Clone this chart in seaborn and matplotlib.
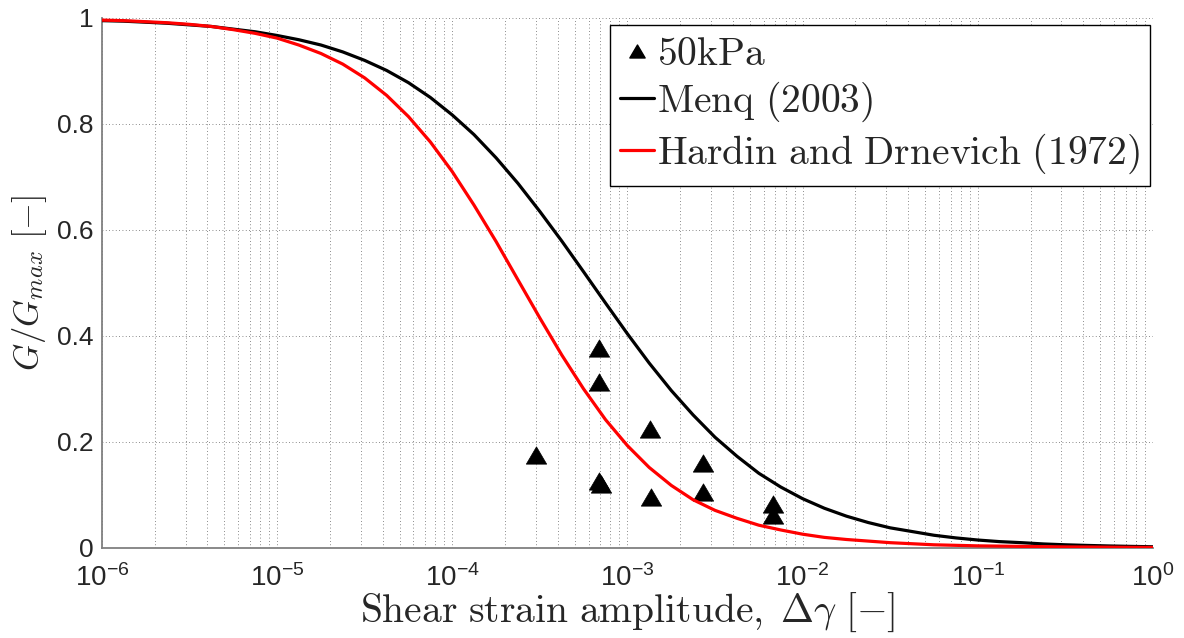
import matplotlib
matplotlib.use("Agg")
import matplotlib.pyplot as plt
from matplotlib.path import Path
from matplotlib.lines import Line2D
import numpy as np
import pandas as pd
import seaborn as sns

# Model curves: shear modulus reduction vs. shear strain amplitude (1/8-decade steps)
strain_curve = [1.0e-6, 1.33e-6, 1.78e-6, 2.37e-6, 3.16e-6, 4.22e-6, 5.62e-6, 7.50e-6,
                1.0e-5, 1.33e-5, 1.78e-5, 2.37e-5, 3.16e-5, 4.22e-5, 5.62e-5, 7.50e-5,
                1.0e-4, 1.33e-4, 1.78e-4, 2.37e-4, 3.16e-4, 4.22e-4, 5.62e-4, 7.50e-4,
                1.0e-3, 1.33e-3, 1.78e-3, 2.37e-3, 3.16e-3, 4.22e-3, 5.62e-3, 7.50e-3,
                1.0e-2, 1.33e-2, 1.78e-2, 2.37e-2, 3.16e-2, 4.22e-2, 5.62e-2, 7.50e-2,
                1.0e-1, 1.33e-1, 1.78e-1, 2.37e-1, 3.16e-1, 4.22e-1, 5.62e-1, 7.50e-1,
                1.0]
menq_2003 = [0.995, 0.994, 0.992, 0.990, 0.987, 0.984, 0.979, 0.974,
             0.967, 0.959, 0.949, 0.936, 0.920, 0.901, 0.878, 0.850,
             0.817, 0.780, 0.736, 0.688, 0.635, 0.579, 0.521, 0.462,
             0.404, 0.349, 0.297, 0.251, 0.209, 0.173, 0.141, 0.115,
             0.093, 0.075, 0.060, 0.048, 0.038, 0.031, 0.024, 0.019,
             0.015, 0.012, 0.010, 0.0076, 0.0060, 0.0048, 0.0038, 0.0030,
             0.0023]
hardin_drnevich_1972 = [0.996, 0.995, 0.993, 0.991, 0.988, 0.984, 0.978, 0.971,
                        0.962, 0.949, 0.933, 0.913, 0.887, 0.854, 0.814, 0.766,
                        0.710, 0.647, 0.578, 0.506, 0.434, 0.364, 0.300, 0.242,
                        0.193, 0.152, 0.118, 0.091, 0.071, 0.056, 0.043, 0.034,
                        0.026, 0.020, 0.016, 0.013, 0.010, 0.008, 0.006, 0.005,
                        0.004, 0.0035, 0.0030, 0.0025, 0.0020, 0.0018, 0.0015, 0.0012,
                        0.0010]

# Measured points at 50 kPa confining pressure
strain_50kpa = [3.0e-4, 6.9e-4, 6.9e-4, 6.9e-4, 7.1e-4, 1.34e-3, 1.36e-3,
                2.7e-3, 2.7e-3, 6.8e-3, 6.8e-3]
ratio_50kpa = [0.175, 0.378, 0.314, 0.126, 0.121, 0.225, 0.097,
               0.160, 0.106, 0.083, 0.062]

x_ticks = [1e-6, 1e-5, 1e-4, 1e-3, 1e-2, 1e-1, 1e0]
x_tick_labels = [r"$10^{-6}$", r"$10^{-5}$", r"$10^{-4}$", r"$10^{-3}$",
                 r"$10^{-2}$", r"$10^{-1}$", r"$10^{0}$"]
y_ticks = [0, 0.2, 0.4, 0.6, 0.8, 1.0]
y_tick_labels = ["0", "0.2", "0.4", "0.6", "0.8", "1"]

sns.set_style("white")
plt.rcParams["mathtext.fontset"] = "cm"
plt.rcParams["mathtext.rm"] = "Liberation Sans"
plt.rcParams["mathtext.it"] = "Liberation Sans:italic"
plt.rcParams["mathtext.bf"] = "Liberation Sans:bold"
plt.rcParams["font.family"] = ["Liberation Sans", "DejaVu Sans"]

curves = pd.DataFrame({
    "strain": strain_curve * 2,
    "ratio": menq_2003 + hardin_drnevich_1972,
    "model": ["Menq (2003)"] * len(strain_curve)
             + ["Hardin and Drnevich (1972)"] * len(strain_curve),
})
points = pd.DataFrame({"strain": strain_50kpa, "ratio": ratio_50kpa})

# Flattened triangle marker
tri = Path([(-1, -0.85), (1, -0.85), (0, 0.85), (-1, -0.85)],
           [Path.MOVETO, Path.LINETO, Path.LINETO, Path.CLOSEPOLY])

fig = plt.figure(figsize=(11.84, 6.38), dpi=100)
ax = fig.add_axes([0.0861, 0.1411, 0.8877, 0.8307])

sns.scatterplot(data=points, x="strain", y="ratio", marker=tri, s=215,
                color="black", edgecolor="black", linewidth=0.5,
                ax=ax, zorder=3, legend=False)
sns.lineplot(data=curves, x="strain", y="ratio", hue="model",
             palette={"Menq (2003)": "black",
                      "Hardin and Drnevich (1972)": "#ff0000"},
             linewidth=2.3, ax=ax, zorder=4, legend=False, sort=False)

ax.set_xscale("log")
ax.set_xlim(1e-6, 1)
ax.set_ylim(0, 1)

ax.set_xticks(x_ticks, x_tick_labels, fontsize=20, math_fontfamily="custom")
ax.xaxis.set_minor_locator(matplotlib.ticker.LogLocator(base=10, subs=np.arange(2, 10)))
ax.xaxis.set_minor_formatter(matplotlib.ticker.NullFormatter())
ax.set_yticks(y_ticks, y_tick_labels, fontsize=19)

ax.tick_params(axis="both", which="major", direction="in", length=9,
               width=1.0, color="0.25", top=False, right=False)
ax.tick_params(axis="x", which="major", pad=12)
ax.tick_params(axis="y", which="major", pad=6)
ax.tick_params(axis="x", which="minor", direction="in", length=6,
               width=0.8, color="0.25", top=False)

grid_style = dict(linestyle=(0, (1, 3)), linewidth=0.6, color="0.4")
ax.grid(True, which="major", axis="both", **grid_style)
ax.grid(True, which="minor", axis="x", **grid_style)
ax.set_axisbelow(True)

for side in ("top", "right"):
    ax.spines[side].set_visible(False)
for side in ("left", "bottom"):
    ax.spines[side].set_color("0.5")
    ax.spines[side].set_linewidth(1.3)

ax.set_xlabel(r"$\mathrm{Shear\ strain\ amplitude,}\;\Delta\gamma\ [-]$",
              fontsize=28.5, labelpad=-1)
ax.set_ylabel(r"$G/G_{max}\ [-]$", fontsize=25, labelpad=6)

handles = [
    Line2D([], [], marker=tri, ms=11, ls="none", color="black"),
    Line2D([], [], color="black", lw=2.3),
    Line2D([], [], color="#ff0000", lw=2.3),
]
labels = [r"$\mathrm{50kPa}$", r"$\mathrm{Menq\ (2003)}$",
          r"$\mathrm{Hardin\ and\ Drnevich\ (1972)}$"]
leg = ax.legend(handles, labels, loc="upper right",
                bbox_to_anchor=(0.997, 0.987), borderaxespad=0,
                fontsize=28.5, frameon=True, fancybox=False,
                handlelength=0.85, handletextpad=0.08, labelspacing=0.18,
                borderpad=0.25)
leg.get_frame().set_edgecolor("black")
leg.get_frame().set_linewidth(1.0)
leg.get_frame().set_alpha(1)

fig.savefig("out.png", dpi=100, facecolor="white")
